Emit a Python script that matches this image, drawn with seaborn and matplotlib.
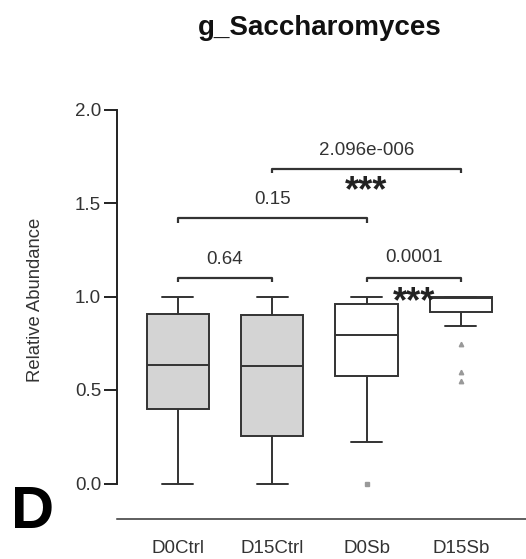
import numpy as np
import pandas as pd
import matplotlib
matplotlib.use("Agg")
import matplotlib.pyplot as plt
import seaborn as sns

categories = ["D0Ctrl", "D15Ctrl", "D0Sb", "D15Sb"]
d0ctrl = [0.0, 0.396, 0.636, 0.908, 1.0]
d15ctrl = [0.0, 0.256, 0.629, 0.900, 1.0]
d0sb = [0.0, 0.223, 0.577, 0.70, 0.793, 0.88, 0.960, 0.98, 1.0]
d15sb = [0.546, 0.598, 0.748, 0.840, 0.915, 0.94, 0.96, 0.98, 0.990,
         0.991, 0.993, 0.994, 0.995, 0.996, 0.997, 0.997, 0.998]
box_colors = ["#d4d4d4", "#d4d4d4", "#ffffff", "#ffffff"]

comparisons = [(0, 1, 1.100, "0.64", None),
               (0, 2, 1.420, "0.15", None),
               (1, 3, 1.683, "2.096e-006", "***"),
               (2, 3, 1.100, "0.0001", "***")]
label_y = [1.210, 1.532, 1.791, 1.218]
star_y = [None, None, 1.620, 1.030]

yticks = [0.0, 0.5, 1.0, 1.5, 2.0]
ytick_labels = ["0.0", "0.5", "1.0", "1.5", "2.0"]

values = []
groups = []
for name, arr in zip(categories, [d0ctrl, d15ctrl, d0sb, d15sb]):
    values.extend(arr)
    groups.extend([name] * len(arr))
df = pd.DataFrame({"group": groups, "value": values})

sns.set_style("white")
plt.rcParams["font.family"] = ["Liberation Sans", "DejaVu Sans"]

W, H = 526, 559
fig = plt.figure(figsize=(W / 100, H / 100), dpi=100)
left_px, right_px, top_px, bottom_px = 116.5, 526, 109.5, 519
ax = fig.add_axes([left_px / W, 1 - bottom_px / H,
                   (right_px - left_px) / W, (bottom_px - top_px) / H])

line_c = "#333333"
sns.boxplot(data=df, x="group", y="value", hue="group", order=categories,
            hue_order=categories, palette=box_colors, legend=False,
            width=0.66, linewidth=1.4, linecolor=line_c, ax=ax,
            flierprops=dict(marker="^", markersize=3.2, markerfacecolor="#999999",
                            markeredgecolor="#999999"))

for ln in ax.lines:
    yd = np.asarray(ln.get_ydata(), dtype=float)
    if ln.get_marker() not in ("None", "", None) and len(yd) and np.all(yd < 0.1):
        ln.set_marker("s")
        ln.set_markersize(2.8)

ybot = -(bottom_px - 483.5) / ((483.5 - top_px) / 2.0)
ax.set_xlim(-0.65, 3.69)
ax.set_ylim(ybot, 2.0)
ax.set_yticks(yticks)
ax.set_yticklabels(ytick_labels)
ax.set_xlabel("")
ax.set_ylabel("")
for s in ["top", "right"]:
    ax.spines[s].set_visible(False)
ax.spines["left"].set_bounds(0, 2)
ax.spines["left"].set_linewidth(1.4)
ax.spines["left"].set_color("#222222")
ax.spines["bottom"].set_linewidth(1.1)
ax.spines["bottom"].set_color("#333333")
ax.tick_params(axis="y", length=9.5, width=1.4, color="#222222",
               labelsize=13.5, labelcolor="#333333", pad=1.5, left=True)
ax.tick_params(axis="x", length=0, labelsize=13.5, labelcolor="#333333", pad=15)

fs_lab = 13.5
fs_star = 26
tick_h = 0.025
for (i, j, y, lab, star), ly, sy in zip(comparisons, label_y, star_y):
    ax.plot([i, i, j, j], [y - tick_h, y, y, y - tick_h], color=line_c,
            lw=1.6, clip_on=False, solid_capstyle="butt")
    ax.annotate(lab, xy=((i + j) / 2, ly), xytext=(0, -0.358 * fs_lab),
                textcoords="offset points", ha="center", va="baseline",
                fontsize=fs_lab, color="#333333", annotation_clip=False)
    if star:
        ax.annotate(star, xy=((i + j) / 2, sy), xytext=(0, -0.58 * fs_star),
                    textcoords="offset points", ha="center", va="baseline",
                    fontsize=fs_star, fontweight="bold", color="#222222",
                    annotation_clip=False)

fig.text(36 / W, 1 - 300 / H, "Relative Abundance", rotation=90,
         ha="center", va="center", fontsize=13.3, color="#333333")
fig.text(320 / W, 1 - 35 / H, "g_Saccharomyces", ha="center", va="baseline",
         fontsize=20, fontweight="bold", color="#111111")
fig.text(33 / W, 1 - 528 / H, "D", ha="center", va="baseline",
         fontsize=43, fontweight="bold", color="#000000")

fig.savefig("out.png", dpi=100)
